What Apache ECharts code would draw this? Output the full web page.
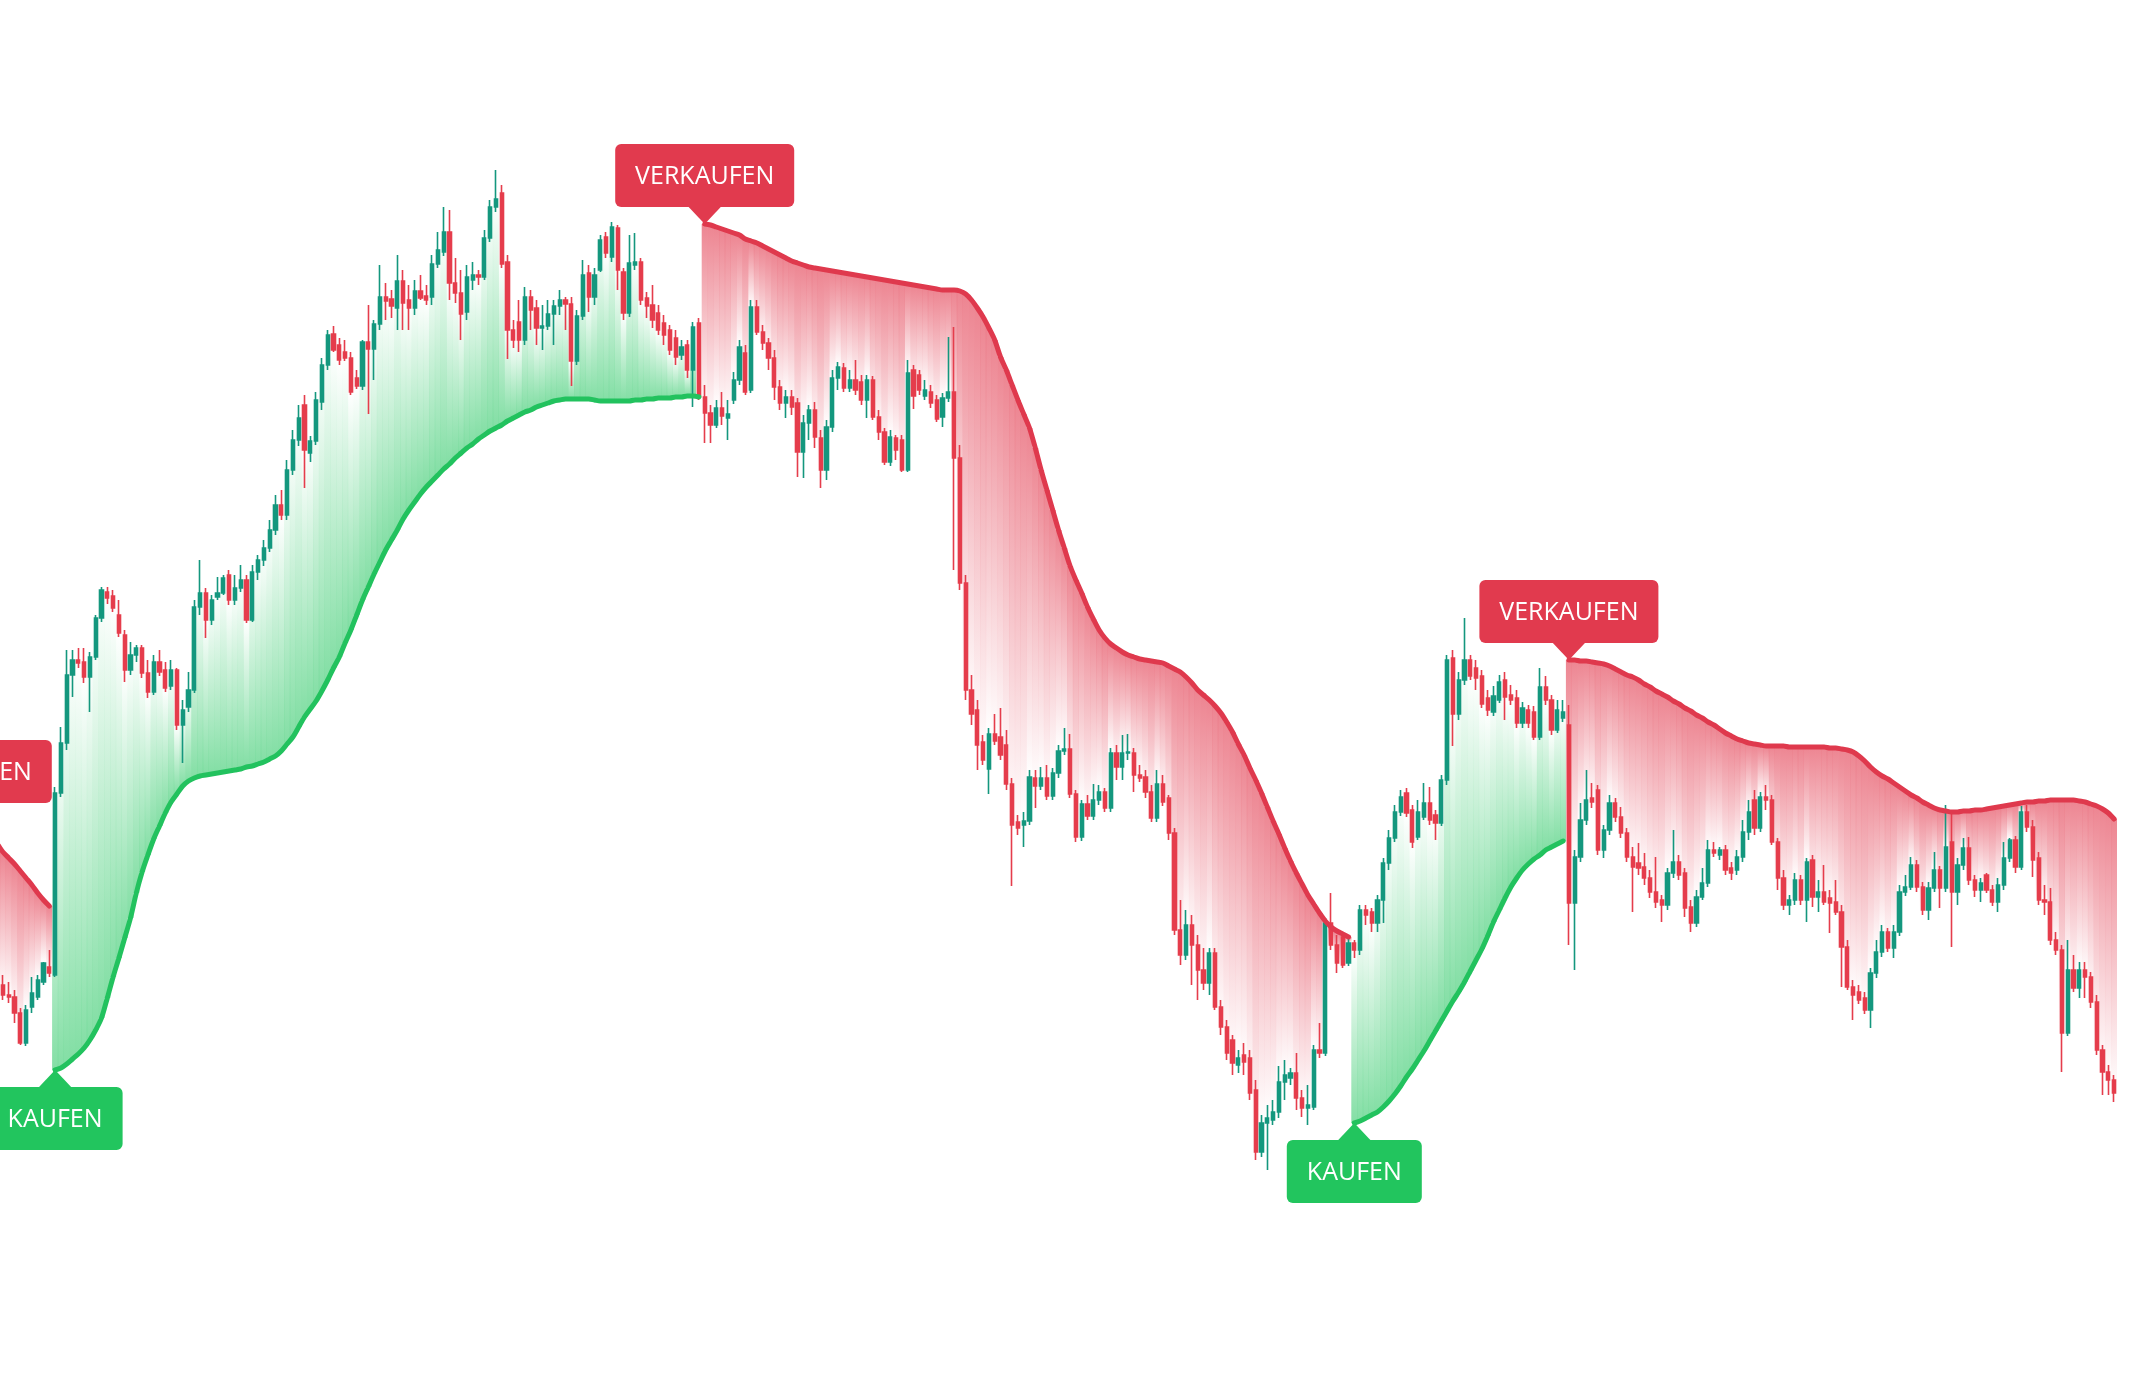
<!DOCTYPE html>
<html>
<head>
<meta charset="utf-8">
<style>
html,body{margin:0;padding:0;background:#ffffff;}
#chart{width:2129px;height:1393px;}
</style>
<script src="https://cdn.jsdelivr.net/npm/echarts@6/dist/echarts.min.js"></script>
</head>
<body>
<div id="chart"></div>
<script>
// ---- Candles per trend phase: [open, close, low, high] ----
const candles0 = [
[54.0,52.5,52.0,55.0],[52.5,51.0,50.2,53.2],[51.0,52.0,50.5,52.8],[52.0,49.0,48.5,52.5],[49.0,47.0,46.2,49.5],[47.0,47.5,46.0,48.2],[47.5,44.5,43.8,48.0],[44.5,41.5,40.8,45.0],[41.5,40.5,40.0,42.5],[40.5,40.3,39.7,41.8],
[40.3,38.7,37.7,41.0],[38.7,35.7,35.5,39.2],[35.7,39.0,35.4,39.5],[39.3,40.7,38.7,42.3],[40.3,42.0,40.0,42.5],[41.8,43.7,41.5,43.8],[43.3,42.7,42.3,45.0]
];
const candles1 = [
[42.5,60.7,42.3,61.3],[60.7,65.7,60.3,67.3],[65.7,72.5,65.0,75.0],[72.5,74.0,70.3,75.0],[74.0,73.7,73.2,75.2],[73.8,72.3,71.7,75.2],[72.3,74.3,68.8,74.8],[74.3,78.2,74.0,78.5],[78.2,81.0,77.8,81.3],[80.8,80.2,79.6,81.3],
[80.4,79.2,78.8,81.0],[78.5,76.7,76.3,80.0],[76.5,73.0,71.8,77.0],[73.0,74.5,72.5,75.8],[74.5,75.2,73.8,75.5],[75.2,72.7,72.2,75.5],[72.7,70.8,70.2,74.0],[70.8,73.8,70.5,74.5],[73.8,72.8,72.4,75.0],[73.0,71.2,70.8,73.8],
[71.4,73.0,71.0,74.0],[73.0,67.5,67.0,73.2],[67.5,69.0,63.7,70.0],[69.3,71.0,68.8,72.8],[71.0,79.3,70.7,80.0],[79.3,80.7,78.5,84.0],[80.7,78.0,76.2,81.2],[78.0,80.0,77.5,80.5],[80.3,80.7,80.0,82.3],[80.7,82.2,80.5,82.5],
[82.5,80.0,79.5,83.0],[80.0,81.2,79.5,82.5],[81.2,82.0,80.8,83.5],[82.0,78.0,77.7,82.5],[78.0,82.8,77.8,83.5],[82.8,84.0,82.0,84.5],[84.0,85.2,83.4,86.0],[85.2,87.0,84.8,88.0],[87.0,89.5,86.5,90.5],[89.5,88.5,88.0,91.0],
[88.5,93.0,88.0,94.0],[93.0,96.0,92.5,97.0],[96.0,98.2,95.4,99.5],[99.5,95.0,91.2,100.5],[94.7,95.9,93.8,96.4],[95.9,100.0,95.5,100.8],[99.8,103.5,99.0,104.2],[103.5,106.5,103.0,107.0],[106.6,105.0,104.8,107.4],[105.5,104.0,103.5,106.2],
[104.8,104.2,103.9,106.0],[104.2,100.8,100.5,104.8],[102.2,101.4,101.1,103.0],[101.4,105.8,101.0,106.0],[105.8,105.1,98.6,109.5],[105.1,107.6,102.0,108.0],[107.6,110.3,107.0,113.5],[110.3,109.9,108.0,111.7],[110.1,109.4,108.2,111.0],[109.2,111.9,107.0,114.5],
[111.9,109.7,107.0,113.0],[110.0,109.2,107.0,111.5],[109.2,110.9,108.5,112.0],[110.9,110.2,110.0,112.5],[110.4,110.0,109.5,111.5],[110.3,113.6,109.5,114.5],[113.6,115.0,113.2,116.8],[114.8,116.8,114.4,119.3],[116.8,111.7,110.0,119.0],[111.7,110.7,109.7,114.2],
[110.7,108.6,106.0,113.0],[108.8,112.3,108.0,113.5],[112.0,112.5,111.0,113.8],[112.5,112.3,111.5,113.0],[112.3,116.2,112.0,117.0],[116.2,119.3,115.8,120.0],[119.3,120.1,118.8,123.0],[120.7,113.6,113.2,121.5],[113.8,107.0,104.1,114.5],[107.0,106.0,105.2,108.0],
[107.8,106.0,104.8,110.0],[106.0,110.3,105.5,111.3],[110.3,109.0,107.0,111.0],[109.2,107.2,105.5,110.0],[107.2,107.4,105.0,109.5],[107.4,108.6,107.0,110.0],[108.6,109.4,105.5,110.0],[109.4,110.0,108.5,111.0],[110.0,109.6,107.0,110.3],[109.6,103.9,101.4,110.3],
[103.9,108.4,103.5,109.0],[108.4,112.5,108.0,114.0],[112.7,110.3,108.8,113.5],[110.3,112.5,109.5,113.2],[113.0,116.0,112.8,116.5],[116.3,114.7,114.2,116.8],[114.3,117.3,113.8,117.8],[117.2,113.0,111.0,117.5],[112.8,108.7,108.0,113.2],[108.7,113.7,108.3,116.5],
[113.5,113.8,113.0,116.7],[113.8,110.0,109.5,114.2],[110.2,109.4,108.2,110.8],[109.5,108.0,107.2,111.5],[108.7,107.0,106.5,109.5],[107.7,106.5,105.5,108.5],[107.0,105.0,104.5,107.5],[106.2,104.3,103.5,107.0],[104.5,105.3,104.0,106.0],[105.5,103.0,102.2,106.0],
[103.0,107.3,99.3,107.8],[107.7,100.3,100.0,108.2]
];
const candles2 = [
[100.3,98.7,95.7,101.5],[98.7,97.5,95.7,99.5],[97.5,99.2,97.2,100.0],[99.2,98.4,97.5,100.8],[98.2,98.6,96.0,100.0],[100.0,102.0,99.6,102.8],[102.0,105.3,101.5,106.0],[104.7,100.8,100.5,105.5],[101.0,109.3,100.7,110.0],[109.3,106.8,106.5,110.0],
[106.8,105.7,105.0,107.5],[105.7,104.2,103.0,106.2],[104.2,101.3,100.0,105.0],[101.3,99.7,99.0,102.0],[99.7,100.3,98.2,101.0],[100.3,99.3,98.5,101.0],[99.7,94.8,92.3,100.2],[94.8,97.7,92.2,98.5],[97.7,99.0,96.0,99.5],[99.0,96.3,95.2,99.8],
[96.2,93.0,91.2,97.0],[93.0,97.3,92.0,98.0],[97.3,102.2,96.8,103.0],[102.2,103.3,101.0,103.8],[103.2,101.2,100.8,103.7],[101.2,102.0,100.8,103.0],[102.0,101.0,100.5,104.0],[101.8,100.0,99.5,102.5],[100.0,102.0,98.2,102.5],[102.0,98.3,98.0,102.4],
[98.3,96.8,96.0,99.0],[96.8,93.8,93.5,97.2],[93.8,96.3,93.4,97.0],[96.2,95.0,94.0,96.5],[96.0,93.0,92.8,96.5],[93.0,102.7,92.8,104.0],[103.0,100.4,99.1,103.5],[102.5,101.0,100.5,103.0],[100.4,101.0,100.0,102.0],[100.8,99.7,99.2,101.5],
[100.0,98.1,97.8,100.5],[98.3,100.2,97.3,100.7],[100.2,100.8,99.8,106.3],[100.8,94.2,83.0,107.3],[94.2,81.7,81.0,95.5],[81.7,71.0,70.0,82.5],[71.0,68.6,67.5,72.5],[69.0,65.5,63.0,70.0],[65.8,64.0,63.5,66.5],[63.1,66.6,60.6,67.2],
[66.6,65.9,65.5,68.6],[66.3,64.5,64.0,69.2],[65.5,61.6,61.0,67.0],[61.6,57.5,51.4,62.2],[57.8,57.2,56.5,58.5],[57.5,57.9,55.3,58.8],[57.9,62.3,57.5,63.0],[62.2,61.4,59.2,63.0],[61.4,62.2,61.0,63.3],[62.2,60.4,60.0,63.5],
[60.4,62.7,60.0,63.2],[62.7,64.9,62.2,65.5],[64.9,65.1,64.5,67.2],[65.1,60.6,60.2,66.6],[60.6,56.3,55.8,61.0],[56.3,59.6,55.9,60.0],[59.6,58.4,58.0,60.5],[58.4,60.0,58.0,61.6],[60.0,60.8,59.5,61.5],[60.8,59.2,58.8,61.2],
[59.2,64.7,58.8,65.2],[64.7,63.3,62.0,65.5],[63.3,64.7,62.0,66.5],[64.7,64.8,64.0,66.6],[64.7,62.5,60.8,65.2],[62.5,62.2,61.8,63.5],[62.3,60.8,60.2,63.0],[60.8,58.2,57.8,61.5],[58.2,61.6,57.8,63.0],[61.6,59.8,59.4,62.5],
[60.2,56.7,56.0,60.5],[56.7,47.0,46.5,57.2],[47.0,44.5,43.5,50.0],[44.5,47.5,44.0,49.0],[47.5,45.5,41.5,48.5],[45.5,43.0,40.0,46.5],[43.0,41.7,41.0,45.2],[41.7,44.7,40.5,45.2],[44.7,39.3,39.0,45.2],[39.3,37.3,36.5,40.0],
[37.3,34.7,34.0,38.0],[36.0,33.7,32.5,36.5],[33.5,34.2,32.7,35.0],[34.5,33.8,32.5,35.7],[34.2,30.7,30.0,35.0],[31.0,24.8,24.0,32.0],[24.8,27.7,24.3,28.5],[27.7,28.2,23.0,29.5],[28.0,28.8,27.5,30.0],[28.8,31.8,28.2,33.4],
[31.8,32.5,30.0,34.0],[32.2,32.7,31.5,33.2],[32.7,30.2,29.0,34.7],[30.2,29.2,28.3,31.0],[29.2,29.5,27.5,31.5],[29.3,35.0,29.0,35.5],[35.0,34.7,34.2,37.7],[34.7,47.7,34.4,48.2],[47.7,45.5,45.0,50.7],[45.5,43.7,42.7,46.5],
[46.3,43.5,43.2,46.8],[43.7,45.7,43.4,46.5]
];
const candles3 = [
[45.7,45.0,44.2,46.0],[45.0,49.0,44.5,49.5],[49.0,48.5,47.5,49.5],[48.8,47.7,46.8,49.2],[47.7,50.0,46.8,50.5],[50.0,53.7,47.7,54.2],[53.7,56.2,53.0,57.0],[56.2,58.8,55.8,59.5],[58.8,60.3,58.4,61.0],[60.7,58.7,58.3,61.2],
[59.0,55.8,55.2,59.5],[56.3,58.8,56.0,60.0],[58.3,59.7,58.0,61.7],[59.7,58.0,57.5,61.3],[58.5,57.7,56.0,59.0],[57.7,62.0,57.4,62.5],[62.0,74.0,61.5,74.5],[74.2,68.6,65.4,75.0],[68.6,72.0,68.0,72.8],[72.0,74.0,71.5,78.2],
[74.0,72.4,72.0,74.5],[73.2,72.2,71.0,74.0],[72.4,69.6,69.2,73.0],[70.2,69.0,68.4,71.0],[68.8,70.4,68.4,71.4],[70.0,71.8,69.7,72.5],[72.0,70.3,68.0,72.8],[70.5,70.0,69.5,71.5],[70.2,67.7,67.2,71.0],[67.7,69.2,67.2,69.8],
[69.0,67.7,67.2,69.5],[68.8,66.3,66.0,69.4],[66.3,71.3,66.0,73.2],[71.3,70.0,69.5,72.4],[70.0,67.0,66.5,70.5],[67.0,69.0,66.7,70.0],[68.2,68.8,67.8,70.0]
];
const candles4 = [
[67.5,49.7,45.5,69.5],[49.7,54.3,43.0,55.0],[54.3,58.0,53.8,59.7],[58.0,60.0,57.5,63.0],[60.2,59.8,59.2,61.7],[61.0,55.0,54.5,61.5],[55.0,57.0,54.2,57.5],[57.0,59.7,56.5,60.5],[59.7,58.3,57.8,60.2],[58.3,56.7,56.2,59.3],
[56.7,54.3,53.8,57.2],[54.3,53.3,48.8,55.3],[53.7,53.2,52.5,55.7],[53.3,52.2,51.5,54.7],[52.2,50.8,50.2,53.0],[50.8,49.8,49.2,54.3],[50.0,49.5,47.8,50.5],[49.5,52.7,49.0,53.2],[52.7,53.8,52.2,57.0],[53.8,52.5,52.0,54.5],
[52.7,49.2,48.3,53.2],[49.3,47.7,46.8,50.0],[47.7,50.3,47.3,51.0],[50.3,51.7,50.0,53.2],[51.7,55.0,51.3,56.0],[55.0,54.7,54.3,55.8],[54.5,55.0,54.0,55.3],[55.0,53.0,52.5,55.5],[53.2,52.7,52.0,53.8],[53.0,54.3,52.5,55.0],
[54.3,56.8,53.8,58.0],[56.8,58.8,56.0,60.0],[60.0,57.2,56.5,61.0],[57.2,60.3,56.8,60.8],[60.3,60.0,59.0,61.5],[60.0,55.8,55.5,60.5],[55.8,52.2,51.0,56.2],[52.2,49.5,49.0,53.0],[49.5,50.0,48.5,50.5],[50.0,52.0,49.5,52.7],
[52.0,50.0,49.5,52.5],[50.0,53.8,47.8,54.2],[54.0,50.3,49.3,54.5],[50.3,50.8,48.8,52.0],[50.8,49.8,49.5,53.5],[50.2,49.7,46.7,51.0],[49.8,48.8,48.5,52.0],[48.8,45.3,41.3,49.5],[45.3,41.3,41.0,46.0],[41.3,40.5,38.0,42.0],
[40.8,40.0,39.6,41.5],[40.2,39.0,38.6,40.8],[39.0,42.7,37.2,43.2],[42.7,44.8,42.2,46.0],[44.8,46.8,44.3,47.5],[46.8,45.2,44.8,47.2],[45.2,46.8,44.2,47.5],[46.8,50.8,46.4,51.5],[50.8,51.3,50.4,52.5],[51.3,53.5,51.0,54.3],
[53.5,51.3,50.8,54.0],[51.3,49.0,48.5,51.8],[49.0,51.2,48.0,51.8],[51.2,53.0,50.8,54.8],[53.0,51.2,49.2,53.4],[51.2,55.3,50.8,59.5],[55.8,50.8,45.3,58.7],[50.8,53.5,49.5,54.2],[53.5,55.2,53.0,56.2],[55.2,52.0,51.5,56.3],
[52.0,51.0,50.3,52.5],[51.0,51.7,49.8,52.2],[52.5,51.0,50.7,52.7],[51.0,49.8,49.4,51.5],[49.8,51.5,48.8,52.2],[51.5,54.2,51.0,55.8],[54.2,56.0,53.8,56.2],[56.0,53.3,52.7,56.4],[53.3,58.8,53.0,59.4],[58.8,57.3,56.8,59.5],
[57.3,54.0,52.3,58.0],[54.2,50.0,49.5,54.8],[50.0,49.8,48.5,51.5],[49.8,46.0,45.5,51.2],[46.0,45.0,44.5,46.8],[45.0,36.7,32.8,45.5],[36.7,43.0,36.4,46.0],[43.0,41.2,40.8,44.5],[41.2,43.0,40.2,43.8],[43.0,42.3,40.2,43.8],
[42.3,39.8,39.2,42.8],[39.8,35.0,34.5,40.5],[35.0,32.8,30.5,35.5],[32.8,32.0,30.5,33.5],[32.0,30.7,29.8,32.5]
];

// ---- Trailing stop level per candle, per phase ----
const stops0 = [null,58.0,57.7,57.4,57.0,56.6,56.1,55.6,54.8,54.2,53.6,52.9,52.2,51.5,50.7,50.0,49.4];
const stops1 = [
33.0,33.2,33.6,34.1,34.6,35.2,36.0,37.0,38.2,40.2,
42.3,44.2,46.2,48.2,50.7,52.8,54.5,56.1,57.4,58.7,
59.8,60.6,61.4,61.9,62.2,62.4,62.5,62.6,62.7,62.8,
62.9,63.0,63.1,63.3,63.4,63.6,63.8,64.1,64.4,64.9,
65.6,66.3,67.3,68.3,69.1,69.9,70.9,72.0,73.2,74.3,
75.7,77.0,78.5,80.0,81.3,82.6,83.8,85.0,86.0,87.0,
88.1,89.0,89.8,90.6,91.3,91.9,92.5,93.1,93.6,94.2,
94.7,95.2,95.6,96.1,96.5,96.9,97.2,97.5,97.9,98.2,
98.5,98.8,99.0,99.3,99.5,99.7,99.9,100.0,100.1,100.1,
100.1,100.1,100.1,100.0,99.9,99.9,99.9,99.9,99.9,99.9,
100.0,100.0,100.1,100.1,100.2,100.2,100.2,100.3,100.3,100.4,
100.4,100.3
];
const stops2 = [
117.6,117.5,117.3,117.1,116.9,116.7,116.5,116.1,115.9,115.7,
115.4,115.1,114.8,114.5,114.2,113.9,113.7,113.5,113.3,113.2,
113.1,113.0,112.9,112.8,112.7,112.6,112.5,112.4,112.3,112.2,
112.1,112.0,111.9,111.8,111.7,111.6,111.5,111.4,111.3,111.2,
111.1,111.0,111.0,111.0,110.9,110.6,110.0,109.2,108.3,107.2,
106.0,104.3,103.0,101.5,100.0,98.6,97.2,95.2,93.0,91.0,
89.0,87.0,85.2,83.4,82.0,80.7,79.3,78.1,77.0,76.2,
75.6,75.2,74.8,74.5,74.3,74.1,74.0,73.9,73.8,73.7,
73.4,73.1,72.8,72.3,71.7,71.0,70.5,70.0,69.4,68.7,
67.8,66.8,65.6,64.5,63.2,62.0,60.7,59.3,57.9,56.6,
55.2,53.9,52.7,51.6,50.5,49.6,48.7,47.9,47.3,46.9,
46.6,46.3
];
const stops3 = [
27.7,27.9,28.2,28.5,28.8,29.3,29.9,30.6,31.4,32.3,
33.1,34.0,34.9,35.9,36.9,37.9,38.9,39.9,40.8,41.8,
42.9,44.0,45.1,46.4,47.8,49.0,50.2,51.3,52.2,53.0,
53.6,54.1,54.5,55.0,55.3,55.6,55.9
];
const stops4 = [
74.0,74.0,73.9,73.9,73.8,73.7,73.6,73.4,73.1,72.8,
72.5,72.3,72.0,71.6,71.3,70.9,70.6,70.3,69.9,69.6,
69.2,68.9,68.5,68.2,67.8,67.5,67.1,66.7,66.4,66.1,
65.9,65.7,65.6,65.5,65.4,65.4,65.4,65.4,65.3,65.3,
65.3,65.3,65.3,65.3,65.3,65.2,65.2,65.1,65.0,64.8,
64.4,63.9,63.3,62.8,62.4,62.1,61.7,61.3,60.9,60.5,
60.2,59.8,59.5,59.2,59.0,58.9,58.8,58.8,58.9,58.9,
59.0,59.0,59.1,59.2,59.3,59.4,59.5,59.6,59.7,59.8,
59.8,59.9,59.9,60.0,60.0,60.0,60.0,60.0,59.9,59.8,
59.6,59.4,59.1,58.7,58.1
];

const phaseSides = ['short','long','short','long','short'];
const signalLabels = {short:'VERKAUFEN', long:'KAUFEN'};
const firstVisibleBar = 8;

const COLORS = {
  up:'#14977E', down:'#E53D4C',
  longLine:'#22C25E', shortLine:'#DF394D',
  longBox:'#22C55E', shortBox:'#E13A4E',
  longFill:'34,197,94', shortFill:'226,58,78'
};

// ---- assemble ----
const candleSets = [candles0,candles1,candles2,candles3,candles4];
const stopSets = [stops0,stops1,stops2,stops3,stops4];
const ohlc = [], stop = [], side = [];
candleSets.forEach((set,k)=>{
  set.forEach((c,j)=>{ ohlc.push(c); stop.push(stopSets[k][j]); side.push(phaseSides[k]); });
});
const categories = ohlc.map((_,i)=>'T'+i);
const longLine = stop.map((v,i)=> side[i]==='long' ? v : null);
const shortLine = stop.map((v,i)=> side[i]==='short' ? v : null);

const fillData = [];
ohlc.forEach((c,i)=>{ if(stop[i]!=null) fillData.push([i, stop[i], c[1], side[i]==='long'?1:0]); });

const signalData = [];
let off = 0;
stopSets.forEach((s,k)=>{
  const j = s.findIndex(v=>v!=null);
  signalData.push([off+j, s[j], phaseSides[k]==='long'?1:0]);
  off += s.length;
});

const LABEL_FONT = '25px "Open Sans", "Noto Sans", sans-serif';
const mctx = document.createElement('canvas').getContext('2d');
function textWidth(t){ mctx.font = LABEL_FONT; return mctx.measureText(t).width; }

const chart = echarts.init(document.getElementById('chart'), null, {renderer:'canvas'});
chart.setOption({
  animation:false,
  backgroundColor:'#ffffff',
  grid:{left:0, right:12, top:0, bottom:3},
  xAxis:{type:'category', data:categories, boundaryGap:true, show:false, min:firstVisibleBar, max:ohlc.length-1},
  yAxis:{type:'value', min:1, max:140, show:false},
  series:[
    {
      type:'custom', name:'fill', z:1, silent:true, clip:true,
      data:fillData,
      encode:{x:0, y:[1,2]},
      renderItem(params, api){
        const i = api.value(0);
        const ps = api.coord([i, api.value(1)]);
        const pc = api.coord([i, api.value(2)]);
        const w = api.size([1,0])[0];
        const isLong = api.value(3)===1;
        const base = isLong ? COLORS.longFill : COLORS.shortFill;
        const a = isLong ? 0.56 : 0.62;
        const top = Math.min(ps[1], pc[1]);
        const h = Math.abs(pc[1]-ps[1]);
        const stopOnTop = ps[1] <= pc[1];
        const stops = stopOnTop
          ? [{offset:0,color:'rgba('+base+','+a+')'},{offset:1,color:'rgba('+base+',0)'}]
          : [{offset:0,color:'rgba('+base+',0)'},{offset:1,color:'rgba('+base+','+a+')'}];
        return {
          type:'rect',
          shape:{x:ps[0]-w/2-0.1, y:top, width:w+0.2, height:h},
          style:{fill:new echarts.graphic.LinearGradient(0,0,0,1,stops)}
        };
      }
    },
    {
      type:'candlestick', name:'price', z:3, clip:true,
      data:ohlc,
      barWidth:3.8,
      itemStyle:{color:COLORS.up, color0:COLORS.down, borderColor:COLORS.up, borderColor0:COLORS.down, borderWidth:1.6}
    },
    {
      type:'line', name:'longStop', z:5, data:longLine, symbol:'none', smooth:0.3, connectNulls:false, clip:true,
      lineStyle:{color:COLORS.longLine, width:5, cap:'round', join:'round'}
    },
    {
      type:'line', name:'shortStop', z:5, data:shortLine, symbol:'none', smooth:0.3, connectNulls:false, clip:true,
      lineStyle:{color:COLORS.shortLine, width:5, cap:'round', join:'round'}
    },
    {
      type:'custom', name:'signals', z:10, silent:true, clip:false,
      data:signalData,
      encode:{x:0, y:1},
      renderItem(params, api){
        const isLong = api.value(2)===1;
        const p = api.coord([api.value(0), api.value(1)]);
        const text = isLong ? signalLabels.long : signalLabels.short;
        const bw = Math.round(textWidth(text) + 40), bh = 63, th = 17, half = 17;
        const x = p[0];
        let boxY, pts;
        if(isLong){
          boxY = p[1] + th;
          pts = [[x-half, boxY+1],[x+half, boxY+1],[x, p[1]]];
        } else {
          boxY = p[1] - th - bh;
          pts = [[x-half, boxY+bh-1],[x+half, boxY+bh-1],[x, p[1]]];
        }
        const fill = isLong ? COLORS.longBox : COLORS.shortBox;
        return {
          type:'group',
          children:[
            {type:'rect', shape:{x:x-bw/2, y:boxY, width:bw, height:bh, r:6}, style:{fill:fill}},
            {type:'polygon', shape:{points:pts}, style:{fill:fill}},
            {type:'text', style:{text:text, x:x, y:boxY+bh/2+1, align:'center', verticalAlign:'middle', fill:'#ffffff', font:LABEL_FONT}}
          ]
        };
      }
    }
  ]
});
</script>
</body>
</html>
